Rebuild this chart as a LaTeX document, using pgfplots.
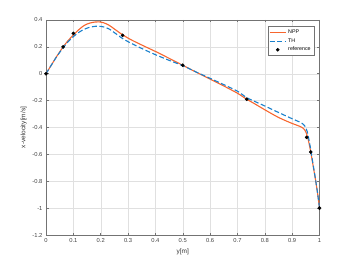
\documentclass[border=0pt]{standalone}
\usepackage{fontspec}
\setmainfont{Liberation Sans}
\usepackage{pgfplots}
\pgfplotsset{compat=1.18}
\definecolor{npp}{rgb}{0.97,0.40,0.18}
\definecolor{th}{rgb}{0.10,0.50,0.80}
\definecolor{gridc}{rgb}{0.88,0.88,0.88}
\definecolor{axc}{rgb}{0.45,0.45,0.45}
\begin{document}
\begin{tikzpicture}
\begin{axis}[
  at={(0,0)}, anchor=south west,
  width=273.5pt, height=215pt, scale only axis,
  xmin=0, xmax=1, ymin=-1.2, ymax=0.4,
  xtick={0,0.1,...,1}, ytick={-1.2,-1,-0.8,-0.6,-0.4,-0.2,0,0.2,0.4},
  xticklabels={0,0.1,0.2,0.3,0.4,0.5,0.6,0.7,0.8,0.9,1},
  yticklabels={-1.2,-1,-0.8,-0.6,-0.4,-0.2,0,0.2,0.4},
  grid=major, major grid style={gridc, line width=0.4pt},
  axis line style={axc, line width=0.6pt},
  tick style={axc, line width=0.5pt}, tick align=inside,
  major tick length=2.5pt,
  ticklabel style={font=\fontsize{5.8}{6}\selectfont, text=black!75},
  xlabel={y[m]}, ylabel={x-velocity[m/s]},
  label style={font=\fontsize{6.5}{7}\selectfont, text=black!80},
  xlabel style={yshift=1pt}, ylabel style={yshift=-1pt},
  legend style={at={(0.98,0.97)}, anchor=north east, draw=axc, line width=0.4pt,
    font=\fontsize{5.3}{6}\selectfont, inner sep=1.2pt, row sep=-0.5pt},
  legend cell align=left,
  legend image code/.code={\draw[#1] (0pt,0pt) -- (16pt,0pt);},
]
\addplot[npp, line width=1.1pt, smooth] coordinates {
(0,0) (0.02,0.066) (0.04,0.132) (0.06,0.192) (0.08,0.245) (0.1,0.288)
(0.12,0.328) (0.14,0.36) (0.16,0.377) (0.18,0.385) (0.195,0.386) (0.21,0.38)
(0.23,0.362) (0.25,0.333) (0.28,0.29) (0.31,0.254) (0.35,0.214) (0.4,0.166)
(0.45,0.115) (0.5,0.063) (0.55,0.011) (0.6,-0.04) (0.65,-0.091) (0.7,-0.145)
(0.734,-0.19) (0.76,-0.22) (0.8,-0.268) (0.85,-0.325) (0.9,-0.37) (0.93,-0.393)
(0.945,-0.415) (0.955,-0.46) (0.965,-0.55) (0.975,-0.665) (0.985,-0.785)
(0.993,-0.89) (1,-1)};
\addlegendentry{NPP}
\addplot[th, line width=1.1pt, dash pattern=on 5pt off 2.5pt, smooth] coordinates {
(0,0) (0.02,0.066) (0.04,0.13) (0.06,0.186) (0.08,0.236) (0.1,0.276)
(0.12,0.308) (0.14,0.331) (0.16,0.346) (0.18,0.353) (0.19,0.354) (0.21,0.349)
(0.23,0.334) (0.25,0.306) (0.28,0.262) (0.31,0.228) (0.35,0.188) (0.4,0.142)
(0.45,0.1) (0.5,0.06) (0.55,0.012) (0.6,-0.034) (0.65,-0.081) (0.7,-0.13)
(0.734,-0.178) (0.76,-0.203) (0.8,-0.24) (0.85,-0.288) (0.9,-0.335) (0.93,-0.362)
(0.945,-0.385) (0.955,-0.43) (0.965,-0.53) (0.975,-0.655) (0.985,-0.78)
(0.993,-0.89) (1,-1)};
\addlegendentry{TH}
\addplot[only marks, mark=*, mark size=1.6pt, black,
  legend image code/.code={\fill[black] (8pt,0pt) circle (1.6pt);}] coordinates {
(0,0) (0.0625,0.2) (0.1,0.3) (0.28,0.286) (0.5,0.063) (0.734,-0.19)
(0.953,-0.473) (0.968,-0.582) (1,-1)};
\addlegendentry{reference}
\end{axis}
\pgfresetboundingbox
\useasboundingbox (-46pt,-30pt) rectangle (307pt,235pt);
\end{tikzpicture}
\end{document}
